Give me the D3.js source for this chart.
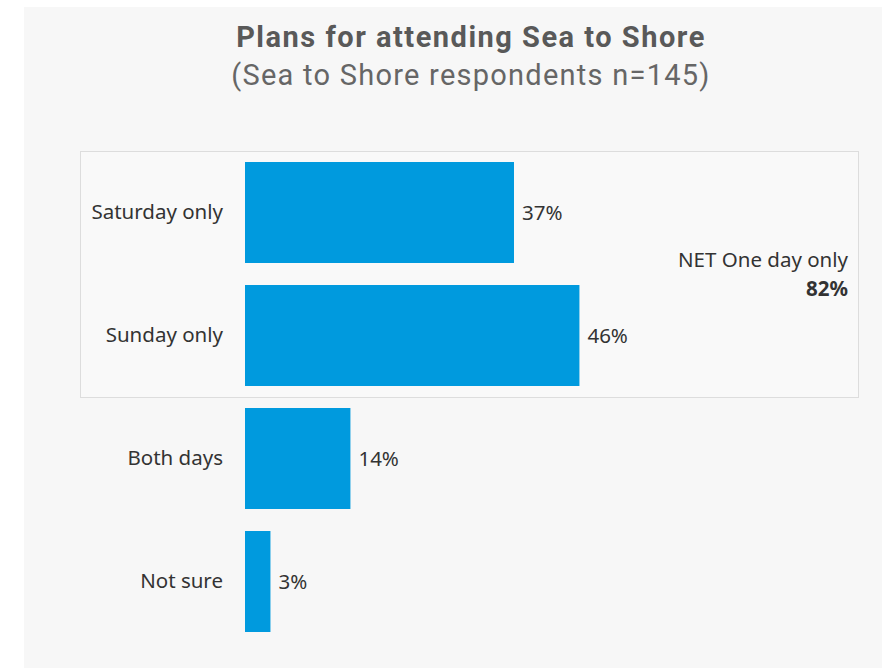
<!DOCTYPE html>
<html>
<head>
<meta charset="utf-8">
<script src="https://cdn.jsdelivr.net/npm/d3@7"></script>
<style>
  body { margin: 0; background: #ffffff; }
  svg { display: block; }
</style>
</head>
<body>
<svg id="chart"></svg>
<script>
// chart data
var categories = ["Saturday only", "Sunday only", "Both days", "Not sure"];
var values = [37, 46, 14.5, 3.5];
var valueLabels = ["37%", "46%", "14%", "3%"];
var netLabel = "NET One day only";
var netValue = "82%";
var netCategories = ["Saturday only", "Sunday only"];

var title = "Plans for attending Sea to Shore";
var subtitle = "(Sea to Shore respondents n=145)";

const width = 882;
const height = 668;
const labelFont = "'Noto Sans', sans-serif";
const labelSize = 20.5;

var svg = d3.select("#chart")
    .attr("width", width)
    .attr("height", height);

// panel background
svg.append("rect")
    .attr("x", 24).attr("y", 7)
    .attr("width", width - 24).attr("height", height - 7)
    .attr("fill", "#f7f7f7");

svg.append("text")
    .attr("x", 471).attr("y", 47)
    .attr("text-anchor", "middle")
    .attr("font-family", "Roboto, sans-serif")
    .attr("font-weight", "bold")
    .attr("font-size", 29)
    .attr("letter-spacing", 1.5)
    .attr("fill", "#595959")
    .text(title);

svg.append("text")
    .attr("x", 471).attr("y", 85)
    .attr("text-anchor", "middle")
    .attr("font-family", "Roboto, sans-serif")
    .attr("font-size", 29)
    .attr("letter-spacing", 1.25)
    .attr("fill", "#666666")
    .text(subtitle);

const x = d3.scaleLinear([0, 100], [245, 972]);
const y = d3.scaleBand()
    .domain(categories)
    .range([151, 643])
    .paddingInner(0.179)
    .paddingOuter(0.0895);

// NET box around the one-day categories
var gap = (y.step() - y.bandwidth()) / 2;
var boxTop = y(netCategories[0]) - gap;
var boxBottom = y(netCategories[netCategories.length - 1]) + y.bandwidth() + gap;
svg.append("rect")
    .attr("x", 80.5).attr("y", boxTop + 0.5)
    .attr("width", 778).attr("height", boxBottom - boxTop)
    .attr("fill", "#f9f9f9")
    .attr("stroke", "#dddddd")
    .attr("stroke-width", 1);

svg.append("g").selectAll("rect")
    .data(values)
    .join("rect")
    .attr("x", x(0))
    .attr("y", function(d, i) { return y(categories[i]); })
    .attr("width", function(d) { return x(d) - x(0); })
    .attr("height", y.bandwidth())
    .attr("fill", "#009ade");

svg.append("g").selectAll("text")
    .data(values)
    .join("text")
    .attr("x", function(d) { return x(d) + 8; })
    .attr("y", function(d, i) { return y(categories[i]) + y.bandwidth() / 2; })
    .attr("dy", "0.35em")
    .attr("font-family", labelFont)
    .attr("font-size", labelSize)
    .attr("fill", "#333333")
    .text(function(d, i) { return valueLabels[i]; });

// category axis
var yAxis = svg.append("g")
    .attr("transform", "translate(" + (x(0) - 22) + ",0)")
    .call(d3.axisLeft(y).tickSize(0).tickPadding(0))
    .call(function(g) { g.select(".domain").remove(); });
yAxis.selectAll("text")
    .attr("font-family", labelFont)
    .attr("font-size", labelSize)
    .attr("fill", "#333333");

svg.append("text")
    .attr("x", 848).attr("y", 267)
    .attr("text-anchor", "end")
    .attr("font-family", labelFont)
    .attr("font-size", labelSize)
    .attr("fill", "#333333")
    .text(netLabel);

svg.append("text")
    .attr("x", 848).attr("y", 296)
    .attr("text-anchor", "end")
    .attr("font-family", labelFont)
    .attr("font-weight", "bold")
    .attr("font-size", labelSize)
    .attr("fill", "#333333")
    .text(netValue);
</script>
</body>
</html>
